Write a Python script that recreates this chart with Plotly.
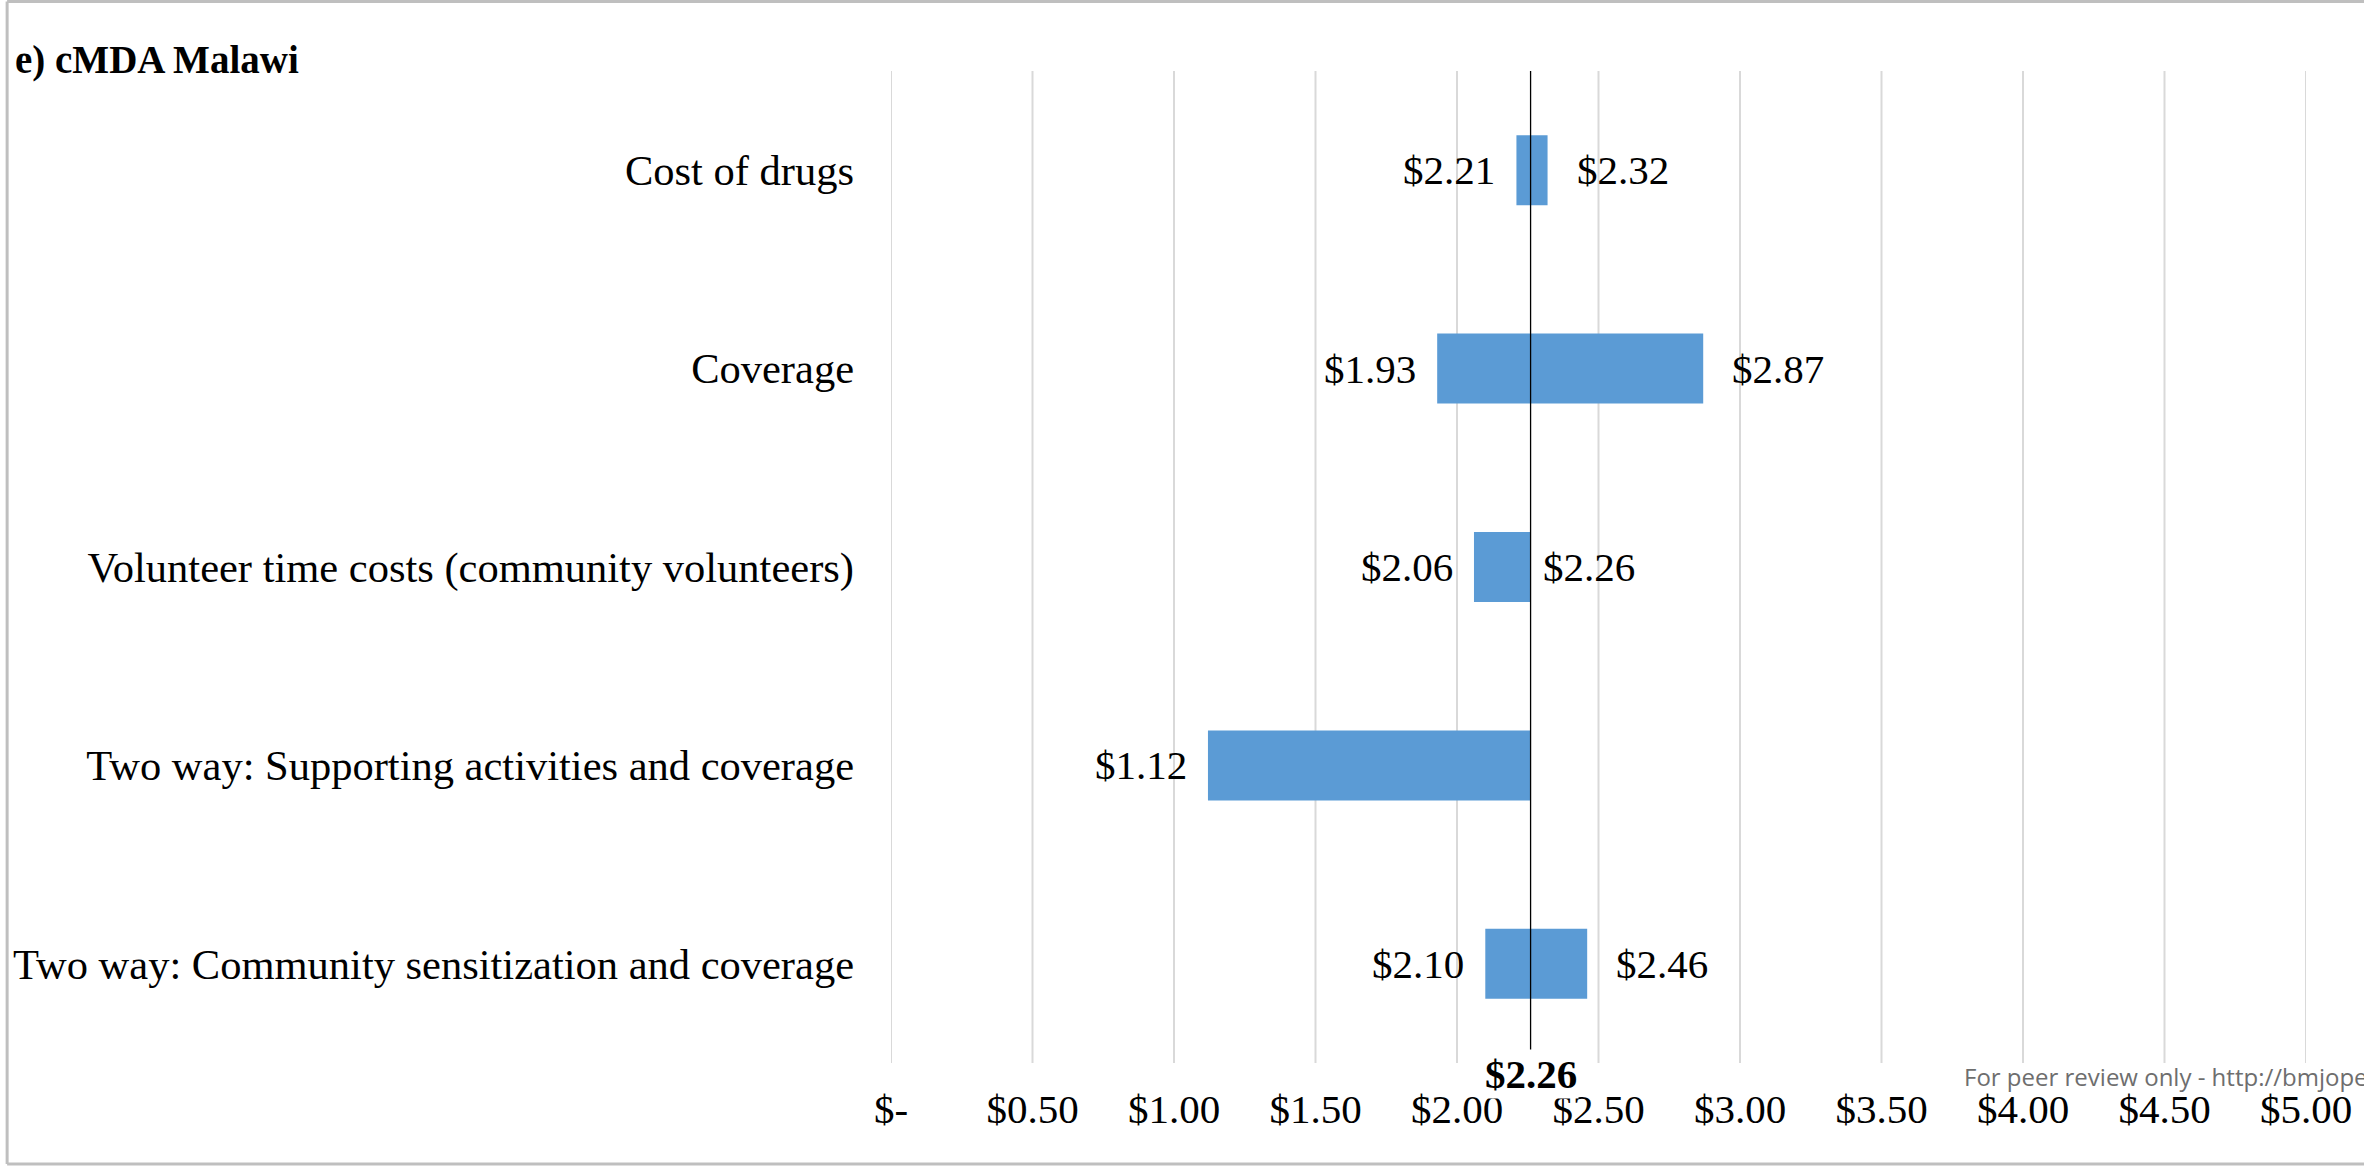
import plotly.graph_objects as go

# ---- data ----
categories = [
    "Cost of drugs",
    "Coverage",
    "Volunteer time costs (community volunteers)",
    "Two way: Supporting activities and coverage",
    "Two way: Community sensitization and coverage",
]
low_vals = [2.21, 1.93, 2.06, 1.12, 2.10]
high_vals = [2.32, 2.87, 2.26, 2.26, 2.46]
show_high_label = [True, True, True, False, True]
base_value = 2.26
tick_vals = [0, 0.5, 1.0, 1.5, 2.0, 2.5, 3.0, 3.5, 4.0, 4.5, 5.0]
tick_labels = ["$-", "$0.50", "$1.00", "$1.50", "$2.00", "$2.50", "$3.00",
               "$3.50", "$4.00", "$4.50", "$5.00"]
title_text = "e) cMDA Malawi"
watermark = "For peer review only - http://bmjopen.bmj.com/site/about/guidelines.xhtml"

# ---- geometry ----
W, H = 2364, 1167
ML, MR, MT, MB = 891, 53, 71, 104
PW, PH = W - ML - MR, H - MT - MB


def px_x(px):
    return (px - ML) / PW


def px_y(py):
    return (H - MB - py) / PH


SERIF = "Liberation Serif, Times New Roman, serif"
BLUE = "#5B9BD5"
FS = 41

fig = go.Figure()
fig.add_trace(go.Bar(
    y=categories,
    x=[h - l for l, h in zip(low_vals, high_vals)],
    base=low_vals,
    orientation="h",
    marker=dict(color=BLUE, line=dict(width=0)),
    width=0.353,
    hoverinfo="skip",
))

annotations = []
for cat, lo, hi, show in zip(categories, low_vals, high_vals, show_high_label):
    annotations.append(dict(
        x=lo, y=cat, xref="x", yref="y", text=f"${lo:.2f}", showarrow=False,
        xanchor="right", yanchor="middle", xshift=-19,
        font=dict(family=SERIF, size=FS, color="black"),
    ))
    if show:
        annotations.append(dict(
            x=hi, y=cat, xref="x", yref="y", text=f"${hi:.2f}", showarrow=False,
            xanchor="left", yanchor="middle", xshift=(10 if hi == base_value else 27),
            font=dict(family=SERIF, size=FS, color="black"),
        ))

# base value label under the axis
annotations.append(dict(
    x=base_value, y=px_y(1074), xref="x", yref="paper", text=f"<b>${base_value:.2f}</b>",
    showarrow=False, xanchor="center", yanchor="middle", bgcolor="white",
    font=dict(family=SERIF, size=FS, color="black"),
))
# title
annotations.append(dict(
    x=px_x(10), y=px_y(60), xref="paper", yref="paper", text=f"<b>{title_text}</b>",
    showarrow=False, xanchor="left", yanchor="middle",
    font=dict(family=SERIF, size=39, color="black"),
))
# watermark
annotations.append(dict(
    x=px_x(1966), y=px_y(1076), xref="paper", yref="paper", text=watermark,
    showarrow=False, xanchor="left", yanchor="middle",
    font=dict(family="Open Sans, sans-serif", size=24, color="#6e6e6e"),
))

shapes = []
# vertical gridlines at every tick
for tv in tick_vals:
    shapes.append(dict(type="line", xref="x", yref="paper", x0=tv, x1=tv, y0=0, y1=1,
                       line=dict(color="#d9d9d9", width=2), layer="below"))
# base value line
shapes.append(dict(type="line", xref="x", yref="paper", x0=base_value, x1=base_value,
                   y0=0, y1=1, line=dict(color="black", width=1.3), layer="above"))
# outer frame (left, top, bottom)
frame = dict(xref="paper", yref="paper", type="line",
             line=dict(color="#bfbfbf", width=3), layer="above")
shapes.append(dict(frame, x0=px_x(4), x1=px_x(4), y0=px_y(1.5), y1=px_y(1164)))
shapes.append(dict(frame, x0=px_x(4), x1=px_x(W + 20), y0=px_y(1.5), y1=px_y(1.5)))
shapes.append(dict(frame, x0=px_x(4), x1=px_x(W + 20), y0=px_y(1164), y1=px_y(1164)))

fig.update_layout(
    width=W, height=H,
    margin=dict(l=ML, r=MR, t=MT, b=MB, pad=0),
    paper_bgcolor="white", plot_bgcolor="white",
    showlegend=False,
    annotations=annotations,
    shapes=shapes,
    xaxis=dict(
        range=[0, 5], tickmode="array", tickvals=tick_vals, ticktext=tick_labels,
        showgrid=False, zeroline=False, showline=False, ticks="",
        tickfont=dict(family=SERIF, size=FS, color="black"),
        ticklabelstandoff=18,
    ),
    yaxis=dict(
        type="category", categoryorder="array", categoryarray=categories,
        autorange="reversed", showgrid=False, zeroline=False, showline=False, ticks="",
        tickfont=dict(family=SERIF, size=42.5, color="black"),
        ticklabelstandoff=36,
    ),
)

fig.write_html(
    "out.html",
    config={"displayModeBar": False},
    post_script="document.body.style.margin='0';document.body.style.overflow='hidden';",
)
